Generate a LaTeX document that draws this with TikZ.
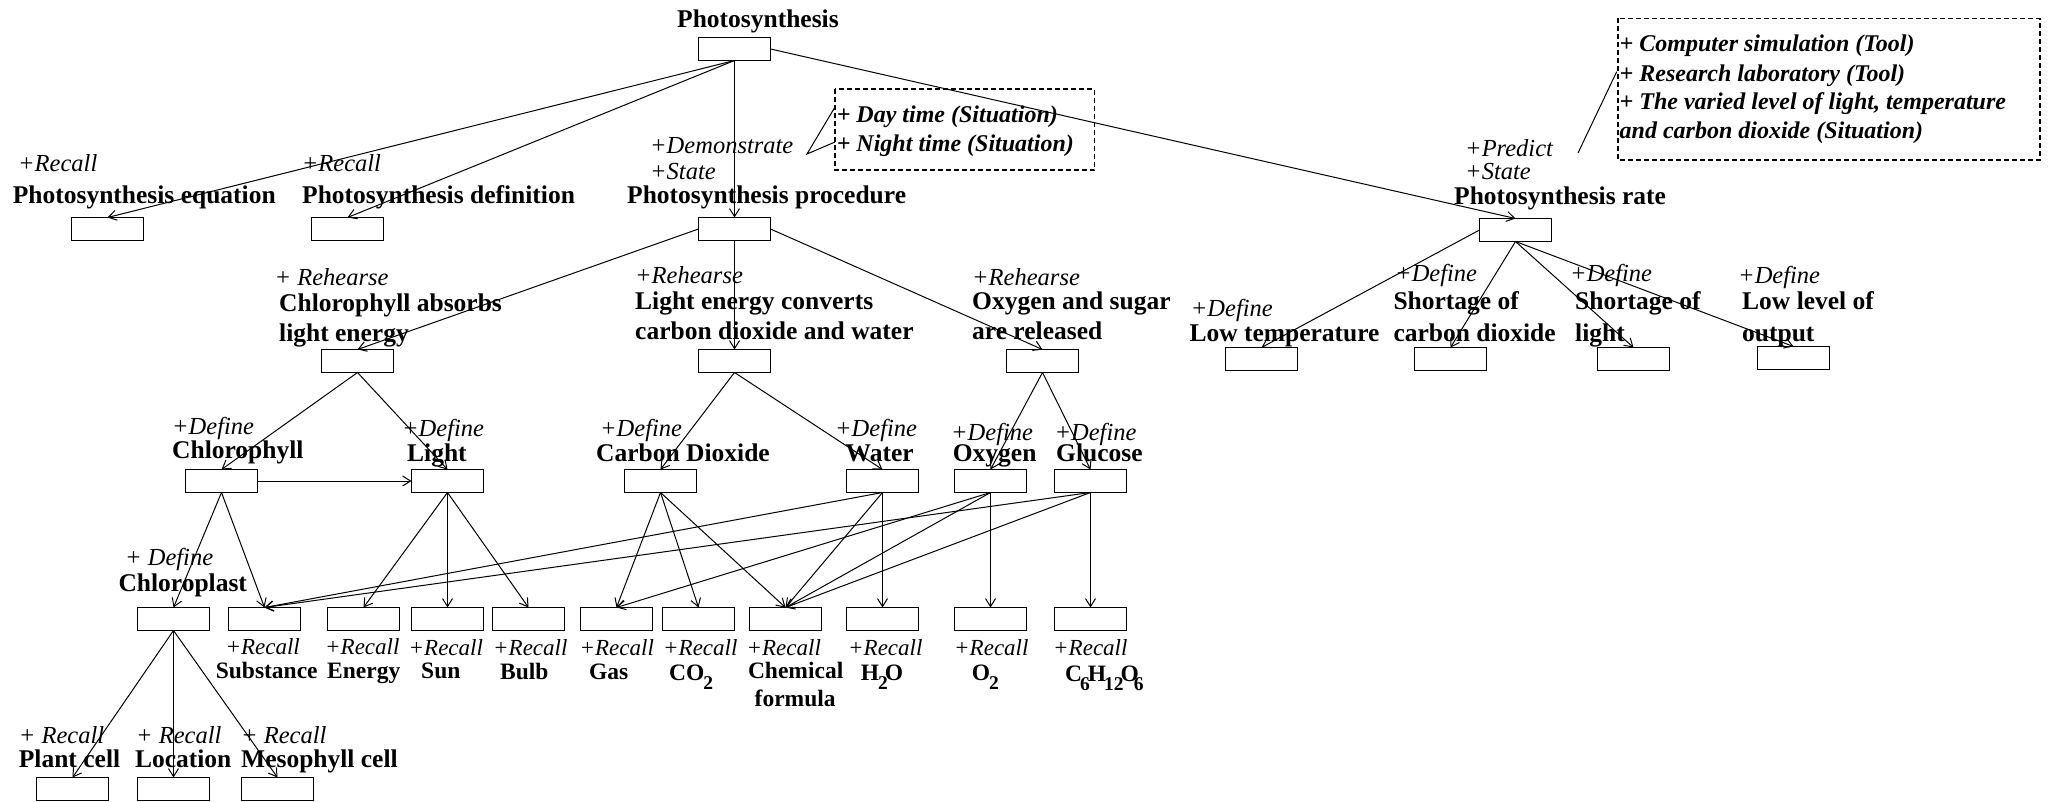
\documentclass[tikz,border=0pt]{standalone}
\usepackage{fontspec}
\setmainfont{Liberation Serif}
\usetikzlibrary{arrows.meta}
% type sizes of the kinds of labels
\newcommand\bsz{\fontsize{25.5}{30}\selectfont}
\newcommand\isz{\fontsize{24.5}{30}\selectfont}
\newcommand\bssz{\fontsize{23.5}{28}\selectfont}
\newcommand\issz{\fontsize{23}{28}\selectfont}
\newcommand\ssz{\fontsize{24}{29}\selectfont}
% lowered index for chemical formulas
\newcommand\dsub[1]{\raisebox{-9pt}{\fontsize{19.5}{20}\selectfont #1}}

\begin{document}
\begin{tikzpicture}[x=1pt,y=-1pt,
  box/.style={draw, line width=1.1pt, minimum width=72pt, minimum height=23pt, inner sep=0pt, outer sep=0pt},
  bl/.style={anchor=base west, inner sep=0pt, font=\bsz\bfseries},
  il/.style={anchor=base west, inner sep=0pt, font=\isz\itshape},
  bls/.style={anchor=base west, inner sep=0pt, font=\bssz\bfseries},
  ils/.style={anchor=base west, inner sep=0pt, font=\issz\itshape},
  sl/.style={anchor=base west, inner sep=0pt, font=\ssz\bfseries\itshape},
  link/.style={line width=1pt, -{Straight Barb[length=8pt,width=10pt]}},
  bare/.style={line width=1pt},
  sitbox/.style={draw, dash pattern=on 5pt off 3pt, line width=1.2pt},
]
\useasboundingbox (0,0) rectangle (2051,802);

% ---------- boxes ----------
\node[box] (top)  at (734.5,49) {};
\node[box] (eq)   at (107.5,229) {};
\node[box] (def)  at (347.5,229) {};
\node[box] (proc) at (734.5,229) {};
\node[box] (rate) at (1515.5,230) {};
\node[box] (cla)  at (357.5,361) {};
\node[box] (lec)  at (734.5,361) {};
\node[box] (osr)  at (1042.5,361) {};
\node[box] (lowt) at (1261.5,359) {};
\node[box] (sco)  at (1450.5,359) {};
\node[box] (slig) at (1633.5,359) {};
\node[box] (lowo) at (1793.5,358) {};
\node[box] (chl)  at (221.5,481) {};
\node[box] (lig)  at (447.5,481) {};
\node[box] (cdx)  at (660.5,481) {};
\node[box] (wat)  at (882.5,481) {};
\node[box] (oxy)  at (990.5,481) {};
\node[box] (glu)  at (1090.5,481) {};
\node[box] (chlp) at (173.5,619) {};
\node[box] (subs) at (264.5,619) {};
\node[box] (ener) at (363.5,619) {};
\node[box] (sun)  at (447.5,619) {};
\node[box] (bulb) at (528.5,619) {};
\node[box] (gas)  at (616.5,619) {};
\node[box] (cdo)  at (698.5,619) {};
\node[box] (chem) at (785.5,619) {};
\node[box] (hto)  at (882.5,619) {};
\node[box] (oto)  at (990.5,619) {};
\node[box] (gfo)  at (1090.5,619) {};
\node[box] (pcel) at (72.5,789) {};
\node[box] (loc)  at (173.5,789) {};
\node[box] (meso) at (277.5,789) {};

% ---------- labels: top and first level ----------
\node[bl] (tTop) at (677,28) {Photosynthesis};
\node[il] (aEq) at (18,172) {+Recall};
\node[bl] (tEq) at (12.7,203.5) {Photosynthesis equation};
\node[il] (aDef) at (301.7,172) {+Recall};
\node[bl] (tDef) at (302,203.5) {Photosynthesis definition};
\node[il] (aProc1) at (650,154) {+Demonstrate};
\node[il] (aProc2) at (650,180) {+State};
\node[bl] (tProc) at (627,204) {Photosynthesis procedure};
\node[il] (aRate1) at (1465,157) {+Predict};
\node[il] (aRate2) at (1465,180) {+State};
\node[bl] (tRate) at (1454,205) {Photosynthesis rate};

% situations and tools
\draw[sitbox] (835,89) rectangle (1094.6,170);
\node[sl] (sDay) at (836.6,123) {+ Day time (Situation)};
\node[sl] (sNight) at (836.6,152) {+ Night time (Situation)};
\coordinate (dApex) at (807,154);
\coordinate (dTop) at (835,107);
\coordinate (dBot) at (835,142);
\draw[bare] (dTop) -- (dApex) -- (dBot);

\draw[sitbox] (1618,18.3) rectangle (2040,160);
\node[sl] (sT1) at (1619.5,51.7) {+ Computer simulation (Tool)};
\node[sl] (sT2) at (1619.5,81.2) {+ Research laboratory (Tool)};
\node[sl] (sT3) at (1619.5,110) {+ The varied level of light, temperature};
\node[sl] (sT4) at (1619.5,138.8) {and carbon dioxide (Situation)};
\coordinate (pFoot) at (1578,153);
\coordinate (pHead) at (1616.7,71.7);
\draw[bare] (pFoot) -- (pHead);

% ---------- labels: second level ----------
\node[il] (aCla) at (274.5,286) {+ Rehearse};
\node[bl] (tCla1) at (279,311.7) {Chlorophyll absorbs};
\node[bl] (tCla2) at (279,341.7) {light energy};
\node[il] (aLec) at (635,284) {+Rehearse};
\node[bl] (tLec1) at (635,310) {Light energy converts};
\node[bl] (tLec2) at (635,340) {carbon dioxide and water};
\node[il] (aOsr) at (972,286) {+Rehearse};
\node[bl] (tOsr1) at (972,310) {Oxygen and sugar};
\node[bl] (tOsr2) at (972,340) {are released};
\node[il] (aLowt) at (1190.7,316.7) {+Define};
\node[bl] (tLowt) at (1189.3,341.7) {Low temperature};
\node[il] (aSco) at (1395,281.7) {+Define};
\node[bl] (tSco1) at (1393.3,310) {Shortage of};
\node[bl] (tSco2) at (1393.3,341.7) {carbon dioxide};
\node[il] (aSlig) at (1570,281.7) {+Define};
\node[bl] (tSlig1) at (1575,310) {Shortage of};
\node[bl] (tSlig2) at (1575,341.7) {light};
\node[il] (aLowo) at (1738,284) {+Define};
\node[bl] (tLowo1) at (1742,310) {Low level of};
\node[bl] (tLowo2) at (1742,341.7) {output};

% ---------- labels: third level ----------
\node[il] (aChl) at (172,434) {+Define};
\node[bl] (tChl) at (172,458) {Chlorophyll};
\node[il] (aLig) at (402,436.7) {+Define};
\node[bl] (tLig) at (407,461) {Light};
\node[il] (aCdx) at (600,436.7) {+Define};
\node[bl] (tCdx) at (596,461.7) {Carbon Dioxide};
\node[il] (aWat) at (835,436.7) {+Define};
\node[bl] (tWat) at (845.5,461.7) {Water};
\node[il] (aOxy) at (951,440) {+Define};
\node[bl] (tOxy) at (952.7,461.7) {Oxygen};
\node[il] (aGlu) at (1054.4,440) {+Define};
\node[bl] (tGlu) at (1056,461.7) {Glucose};

% ---------- labels: fourth level ----------
\node[il] (aChlp) at (125,565) {+ Define};
\node[bl] (tChlp) at (118.3,591.7) {Chloroplast};
\node[ils] (aSubs) at (225.4,654) {+Recall};
\node[bls] (tSubs) at (215.6,678) {Substance};
\node[ils] (aEner) at (325,654) {+Recall};
\node[bls] (tEner) at (327,678) {Energy};
\node[ils] (aSun) at (408.5,655) {+Recall};
\node[bls] (tSun) at (421,678) {Sun};
\node[ils] (aBulb) at (493,655) {+Recall};
\node[bls] (tBulb) at (500,679) {Bulb};
\node[ils] (aGas) at (579.4,655) {+Recall};
\node[bls] (tGas) at (589,679) {Gas};
\node[ils] (aCdo) at (663,655) {+Recall};
\node[bls] (tCdo) at (669,680) {CO\kern-1pt\dsub{2}};
\node[ils] (aChem) at (746.4,655) {+Recall};
\node[bls] (tChem1) at (747.8,678) {Chemical};
\node[bls] (tChem2) at (754.5,706.7) {formula};
\node[ils] (aHto) at (848,655) {+Recall};
\node[bls] (tHto) at (860.7,680) {H\kern-1pt\dsub{2}\kern-3pt O};
\node[ils] (aOto) at (954,655) {+Recall};
\node[bls] (tOto) at (971.7,680) {O\kern-1pt\dsub{2}};
\node[ils] (aGfo) at (1053,655) {+Recall};
\node[bls] (tGfo) at (1065,681) {C\kern-2pt\dsub{6}\kern-2pt H\kern-2pt\dsub{12}\kern-3pt O\kern-5pt\dsub{6}};

% ---------- labels: fifth level ----------
\node[il] (aPcel) at (18.7,743) {+ Recall};
\node[bl] (tPcel) at (18.7,767) {Plant cell};
\node[il] (aLoc) at (136,743) {+ Recall};
\node[bl] (tLoc) at (134.8,767) {Location};
\node[il] (aMeso) at (241,743) {+ Recall};
\node[bl] (tMeso) at (241,767) {Mesophyll cell};

% ---------- connectors ----------
\draw[link] (top.south) -- (eq.north);
\draw[link] (top.south) -- (def.north);
\draw[link] (top.south) -- (proc.north);
\draw[link] (top.east) -- (rate.north);

\draw[link] (proc.west) -- (cla.north);
\draw[link] (proc.south) -- (lec.north);
\draw[link] (proc.east) -- (osr.north);

\draw[link] (rate.west) -- (lowt.north);
\draw[link] (rate.south) -- (sco.north);
\draw[link] (rate.south) -- (slig.north);
\draw[link] (rate.south) -- (lowo.north);

\draw[link] (cla.south) -- (chl.north);
\draw[link] (cla.south) -- (lig.north);
\draw[link] (lec.south) -- (cdx.north);
\draw[link] (lec.south) -- (wat.north);
\draw[link] (osr.south) -- (oxy.north);
\draw[link] (osr.south) -- (glu.north);

\draw[link] (chl.east) -- (lig.west);

\draw[link] (chl.south) -- (chlp.north);
\draw[link] (chl.south) -- (subs.north);
\draw[link] (lig.south) -- (ener.north);
\draw[link] (lig.south) -- (sun.north);
\draw[link] (lig.south) -- (bulb.north);
\draw[link] (cdx.south) -- (gas.north);
\draw[link] (cdx.south) -- (cdo.north);
\draw[link] (cdx.south) -- (chem.north);
\draw[link] (wat.south) -- (subs.north);
\draw[link] (wat.south) -- (chem.north);
\draw[link] (wat.south) -- (hto.north);
\draw[link] (oxy.south) -- (gas.north);
\draw[link] (oxy.south) -- (chem.north);
\draw[link] (oxy.south) -- (oto.north);
\draw[link] (glu.south) -- (subs.north);
\draw[link] (glu.south) -- (chem.north);
\draw[link] (glu.south) -- (gfo.north);

\draw[link] (chlp.south) -- (pcel.north);
\draw[link] (chlp.south) -- (loc.north);
\draw[link] (chlp.south) -- (meso.north);
\end{tikzpicture}
\end{document}
